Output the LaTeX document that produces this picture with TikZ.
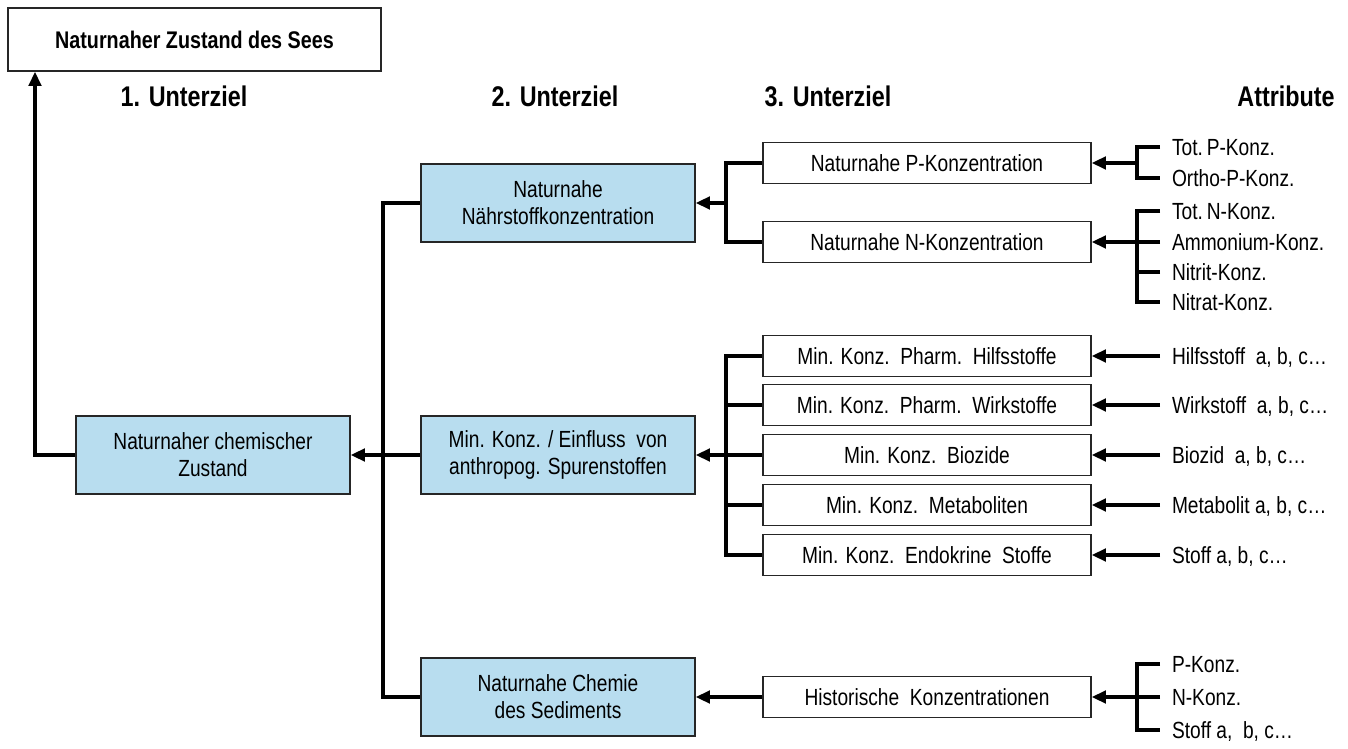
\documentclass[tikz,border=0pt]{standalone}
\usepackage{fontspec}
\setmainfont{Liberation Sans}[FakeStretch=0.82]
\usetikzlibrary{arrows.meta, positioning}
\definecolor{zielblau}{RGB}{184,221,239}

\begin{document}
\begin{tikzpicture}[
  x=0.02cm, y=-0.02cm,
  every node/.style={inner sep=0pt},
  txt/.style={font=\fontsize{13.3}{15.4}\selectfont},
  ziel/.style={txt, draw=black!85, line width=1pt, fill=zielblau, align=center,
    minimum width=5.48cm, minimum height=1.56cm},
  krit/.style={txt, draw=black!85, line width=1pt, fill=white,
    minimum width=6.56cm, minimum height=0.82cm},
  attr/.style={txt, anchor=west, outer sep=0.24cm, text height=0.334cm, text depth=0pt},
  kopf/.style={font=\fontsize{16.2}{19}\selectfont\bfseries},
  conn/.style={line width=1.9pt},
  pfeil/.style={conn, -{Triangle[length=0.28cm, width=0.25cm]}},
]
  \useasboundingbox (0,0) rectangle (1348,749);

  % Oberziel und Ueberschriften
  \node[draw=black!85, line width=1pt, minimum width=7.46cm, minimum height=1.26cm,
    font=\fontsize{13.7}{16}\selectfont\bfseries] (sees) at (194.5,39.5) {Naturnaher Zustand des Sees};
  \node[kopf] (k1) at (184,96) {1. Unterziel};
  \node[kopf] (k2) at (555,96) {2. Unterziel};
  \node[kopf] (k3) at (828,96) {3. Unterziel};
  \node[kopf] (k4) at (1286,96) {Attribute};

  % Unterziele
  \node[ziel] (chem) at (213,455) {Naturnaher chemischer\\Zustand};
  \node[ziel] (naehr) at (558,203) {Naturnahe\\Nährstoffkonzentration};
  \node[ziel] (spuren) at (558,455) {Min. Konz. / Einfluss~~von\\anthropog. Spurenstoffen};
  \node[ziel] (sedim) at (558,697) {Naturnahe Chemie\\des Sediments};

  \node[krit] (pkonz) at (927,163) {Naturnahe P-Konzentration};
  \node[krit] (nkonz) at (927,242) {Naturnahe N-Konzentration};
  \node[krit] (hilfs) at (927,356) {Min. Konz.~~Pharm.~~Hilfsstoffe};
  \node[krit] (wirk) at (927,405) {Min. Konz.~~Pharm.~~Wirkstoffe};
  \node[krit] (biozid) at (927,455) {Min. Konz.~~Biozide};
  \node[krit] (metab) at (927,505) {Min. Konz.~~Metaboliten};
  \node[krit] (endo) at (927,555) {Min. Konz.~~Endokrine~~Stoffe};
  \node[krit] (hist) at (927,697) {Historische~~Konzentrationen};

  % Attribute
  \node[attr] (totp) at (1160,147) {Tot.\,P-Konz.};
  \node[attr] (orthop) at (1160,178) {Ortho-P-Konz.};
  \node[attr] (totn) at (1160,211) {Tot.\,N-Konz.};
  \node[attr] (ammon) at (1160,242) {Ammonium-Konz.};
  \node[attr] (nitrit) at (1160,272) {Nitrit-Konz.};
  \node[attr] (nitrat) at (1160,302) {Nitrat-Konz.};
  \node[attr] (ahilf) at (1160,356) {Hilfsstoff~~a, b, c…};
  \node[attr] (awirk) at (1160,405) {Wirkstoff~~a, b, c…};
  \node[attr] (abio) at (1160,455) {Biozid~~a, b, c…};
  \node[attr] (ameta) at (1160,505) {Metabolit a, b, c…};
  \node[attr] (astoff) at (1160,555) {Stoff a, b, c…};
  \node[attr] (hp) at (1160,664) {P-Konz.};
  \node[attr] (hn) at (1160,697) {N-Konz.};
  \node[attr] (hstoff) at (1160,730) {Stoff a,~~b, c…};

  % Verzweigungen
  \coordinate (c0) at (35,455);
  \coordinate (j0) at (383,455);
  \coordinate (j1) at (726,203);
  \coordinate (j2) at (726,455);
  \coordinate (bp) at (1137,163);
  \coordinate (bn) at (1137,242);
  \coordinate (bh) at (1137,697);

  \draw[pfeil] (chem.west) -- (c0) -- (c0 |- sees.south);
  \draw[conn] (naehr.west) -| (j0) |- (sedim.west);
  \draw[pfeil] (spuren.west) -- (chem.east);

  \draw[conn] (pkonz.west) -| (j1) |- (nkonz.west);
  \draw[pfeil] (j1) -- (naehr.east);
  \draw[conn] (hilfs.west) -| (j2) |- (endo.west);
  \foreach \k in {wirk, metab}
    \draw[conn] (\k.west) -- (\k.west -| j2);
  \draw[pfeil] (biozid.west) -- (spuren.east);
  \draw[pfeil] (hist.west) -- (sedim.east);

  \draw[conn] (totp.west) -| (bp) |- (orthop.west);
  \draw[pfeil] (bp) -- (pkonz.east);
  \draw[conn] (totn.west) -| (bn) |- (nitrat.west);
  \foreach \a in {ammon, nitrit}
    \draw[conn] (\a.west) -- (\a.west -| bn);
  \draw[pfeil] (bn) -- (nkonz.east);
  \draw[conn] (hp.west) -| (bh) |- (hstoff.west);
  \draw[conn] (hn.west) -- (bh);
  \draw[pfeil] (bh) -- (hist.east);

  \draw[pfeil] (ahilf.west) -- (hilfs.east);
  \draw[pfeil] (awirk.west) -- (wirk.east);
  \draw[pfeil] (abio.west) -- (biozid.east);
  \draw[pfeil] (ameta.west) -- (metab.east);
  \draw[pfeil] (astoff.west) -- (endo.east);
\end{tikzpicture}
\end{document}
